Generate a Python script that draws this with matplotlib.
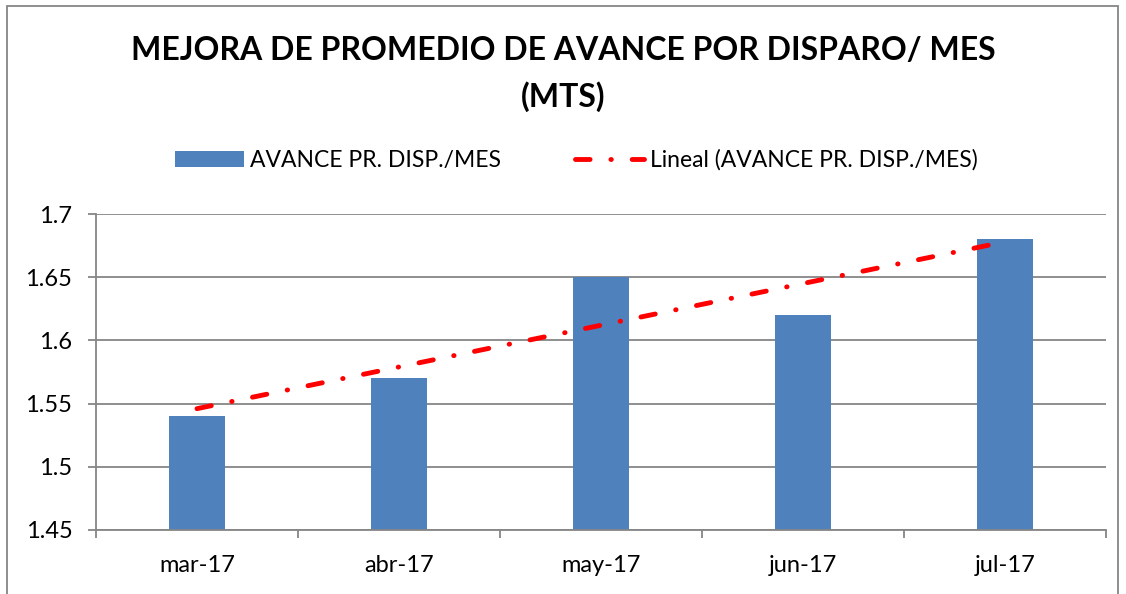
import numpy as np
import matplotlib
matplotlib.use("Agg")
import matplotlib.pyplot as plt
from matplotlib.patches import Rectangle

# data
months = ["mar-17", "abr-17", "may-17", "jun-17", "jul-17"]
avance = [1.54, 1.57, 1.65, 1.62, 1.68]
y_ticks = [1.45, 1.5, 1.55, 1.6, 1.65, 1.7]

plt.rcParams["font.family"] = ["Lato", "DejaVu Sans"]
plt.rcParams["lines.scale_dashes"] = False

fig = plt.figure(figsize=(11.26, 5.94), dpi=100)
ax = fig.add_axes([96 / 1126, 64 / 594, 1010 / 1126, 316 / 594])

x = np.arange(len(months))
bars = ax.bar(x, avance, width=0.28, color="#4f81bd", zorder=2,
              label="AVANCE PR. DISP./MES")

# linear trend like Excel's "Lineal" trendline
coef = np.polyfit(x, avance, 1)
trend = np.polyval(coef, x)
line, = ax.plot(x, trend, color="#ff0000", lw=3.5, zorder=3,
                dash_capstyle="round", solid_capstyle="round",
                label="Lineal (AVANCE PR. DISP./MES)")
line.set_dashes((10.5, 15, 0.3, 15))

ax.set_xlim(-0.5, len(months) - 0.5)
ax.set_ylim(1.45, 1.7)
ax.set_yticks(y_ticks)
ax.set_yticklabels([f"{v:g}" for v in y_ticks])
ax.yaxis.grid(True, color="#868686", lw=1.3, zorder=0)

# category labels between boundary ticks
ax.set_xticks(np.arange(-0.5, len(months)))
ax.set_xticklabels([])
ax.set_xticks(x, minor=True)
ax.set_xticklabels(months, minor=True)
ax.tick_params(axis="x", which="minor", length=0, pad=18, labelsize=17)
ax.tick_params(axis="x", which="major", length=6, color="#868686", width=1.3)
ax.tick_params(axis="y", length=6, color="#868686", width=1.3, labelsize=17, pad=11)

for side in ["top", "right"]:
    ax.spines[side].set_visible(False)
for side in ["left", "bottom"]:
    ax.spines[side].set_color("#868686")
    ax.spines[side].set_linewidth(1.3)

fig.text(0.5, 1 - 50 / 594, "MEJORA DE PROMEDIO DE AVANCE POR DISPARO/ MES",
         ha="center", va="center", fontsize=23, fontweight="bold")
fig.text(0.5, 1 - 97 / 594, "(MTS)", ha="center", va="center",
         fontsize=23, fontweight="bold")

fig.legend(handles=[bars, line], loc="center", bbox_to_anchor=(0.512, 1 - 160 / 594),
           ncol=2, frameon=False, fontsize=16.5, handlelength=3.0,
           handletextpad=0.3, columnspacing=3.2)

# outer chart border
fig.patches.append(Rectangle((7 / 1126, -0.05), 1111 / 1126, 1.04,
                             transform=fig.transFigure, fill=False,
                             edgecolor="#868686", lw=1.3))

fig.savefig("out.png", dpi=100)
